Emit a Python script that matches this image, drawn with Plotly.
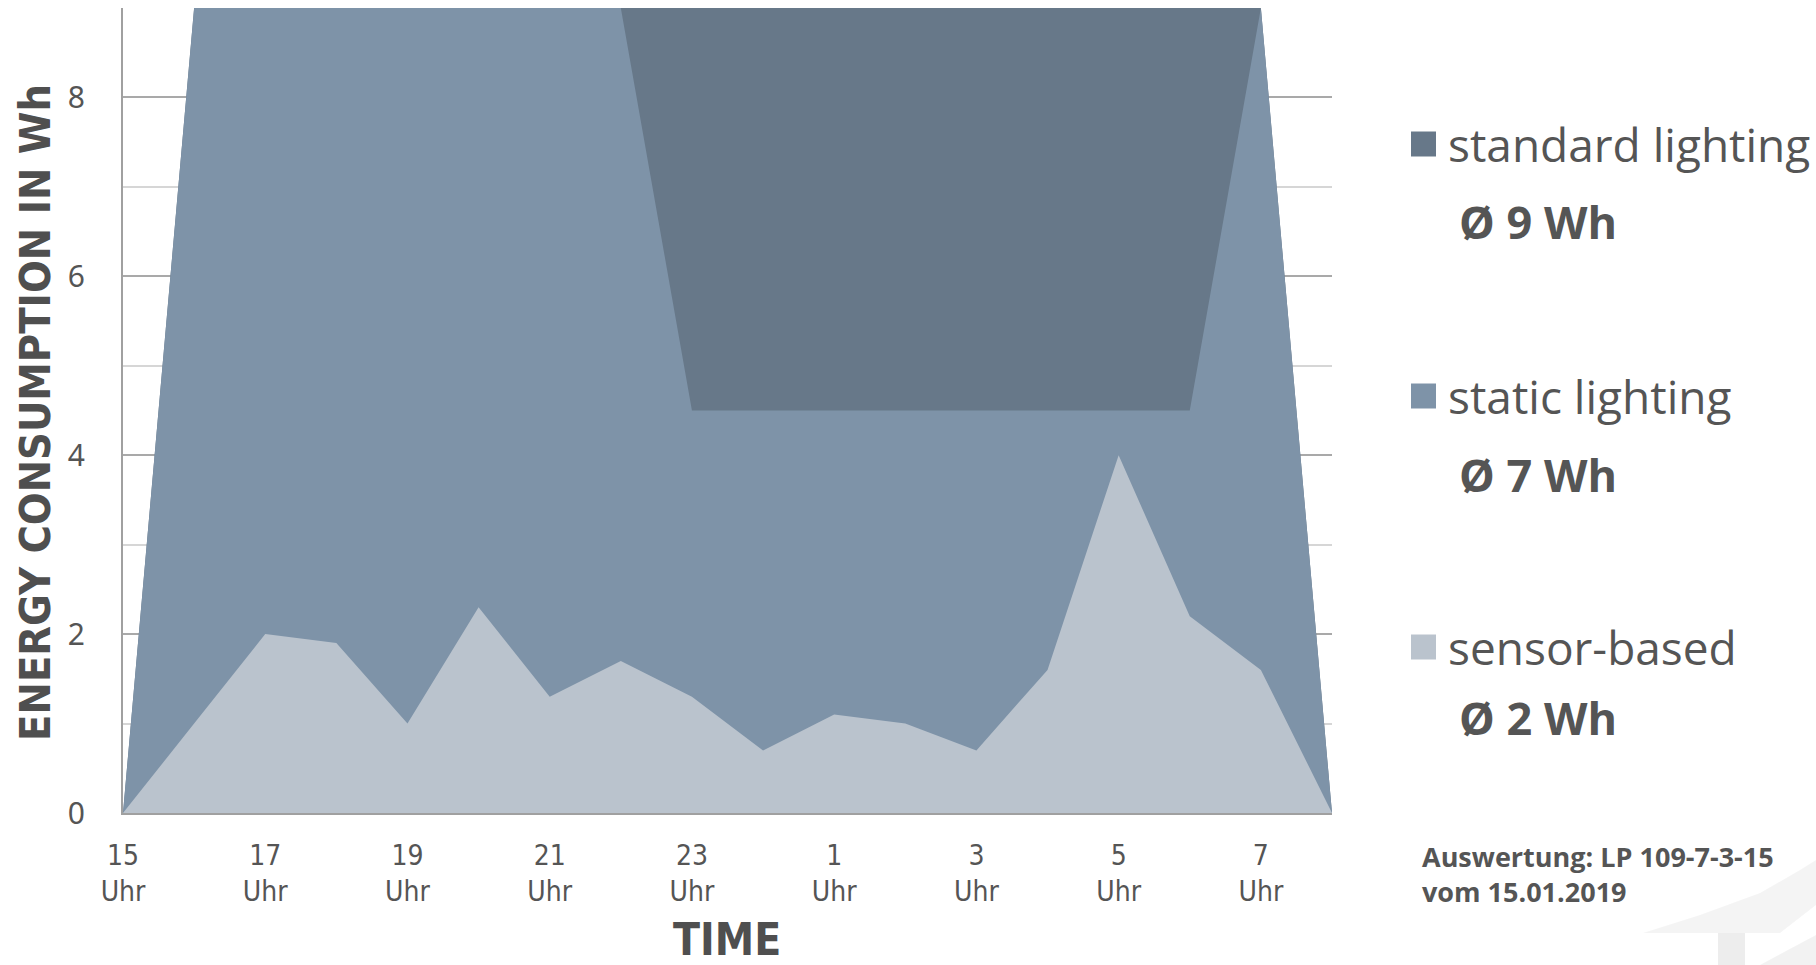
import plotly.graph_objects as go

# Hourly energy consumption over one night (15 Uhr .. 8 Uhr)
hours = ["15", "16", "17", "18", "19", "20", "21", "22", "23",
         "0", "1", "2", "3", "4", "5", "6", "7", "8"]
standard_wh = [0, 9, 9, 9, 9, 9, 9, 9, 9, 9, 9, 9, 9, 9, 9, 9, 9, 0]
static_wh = [0, 9, 9, 9, 9, 9, 9, 9, 4.5, 4.5, 4.5, 4.5, 4.5, 4.5, 4.5, 4.5, 9, 0]
sensor_wh = [0, 1.0, 2.0, 1.9, 1.0, 2.3, 1.3, 1.7, 1.3, 0.7, 1.1, 1.0, 0.7, 1.6, 4.0, 2.2, 1.6, 0]

series_names = ["standard lighting", "static lighting", "sensor-based"]
series_avg = ["Ø 9 Wh", "Ø 7 Wh", "Ø 2 Wh"]
series_colors = ["#677889", "#7e93a8", "#bac3cd"]

y_ticks = [0, 2, 4, 6, 8]
x_tick_idx = list(range(0, len(hours), 2))
x_tick_text = [f"{hours[i]}<br>Uhr" for i in x_tick_idx]

x = list(range(len(hours)))

# canvas / plot-area geometry in pixels
FIG_W, FIG_H = 1816, 965
L, R, T, B = 123, 484, 8, 152
PW = FIG_W - L - R
PH = FIG_H - T - B


def xp(px):
    return (px - L) / PW


def yp(py):
    return (FIG_H - B - py) / PH


fig = go.Figure()
for name, vals, col in zip(series_names, [standard_wh, static_wh, sensor_wh], series_colors):
    fig.add_trace(go.Scatter(
        x=x, y=vals, name=name, mode="none",
        fill="tozeroy", fillcolor=col, showlegend=False,
    ))

TXT = "#555555"
condensed = "Liberation Sans Narrow, DejaVu Sans Condensed, Arial Narrow, sans-serif"
legend_font = "Open Sans, Noto Sans, DejaVu Sans, sans-serif"

fig.update_layout(
    width=FIG_W, height=FIG_H, autosize=False,
    margin=dict(l=L, r=R, t=T, b=B, pad=0),
    paper_bgcolor="white", plot_bgcolor="white",
    xaxis=dict(
        range=[0, len(hours) - 1], tickmode="array",
        tickvals=x_tick_idx, ticktext=x_tick_text,
        showgrid=False, zeroline=False, showline=True,
        linecolor="#a0a0a0", linewidth=2, ticks="",
        ticklabelstandoff=16,
        tickfont=dict(family=condensed, size=28, color=TXT),
    ),
    yaxis=dict(
        range=[0, 9], tickmode="array", tickvals=y_ticks,
        showgrid=True, gridcolor="#a9a9a9", gridwidth=2,
        minor=dict(dtick=1, tick0=0, showgrid=True, gridcolor="#d6d6d6", gridwidth=2),
        zeroline=False, showline=True, linecolor="#a0a0a0", linewidth=2,
        ticks="", ticklabelstandoff=30,
        tickfont=dict(family="Noto Sans, DejaVu Sans, sans-serif", size=30, color=TXT),
    ),
)

annotations = [
    dict(text="<b>ENERGY CONSUMPTION IN Wh</b>", x=xp(35), y=0.497, textangle=-90,
         xanchor="center", yanchor="middle",
         font=dict(family=condensed, size=43, color="#4f4f4f")),
    dict(text="<b>TIME</b>", x=xp(727), y=yp(939), xanchor="center", yanchor="middle",
         font=dict(family=condensed, size=44, color="#4f4f4f")),
    dict(text="<b>Auswertung: LP 109-7-3-15<br>vom 15.01.2019</b>", x=xp(1420), y=yp(874),
         xanchor="left", yanchor="middle", align="left",
         font=dict(family=legend_font, size=27, color=TXT)),
]

shapes = []
legend_rows = [144, 396, 647]
avg_rows = [221, 474, 717]
for name, avg, col, ty, ay in zip(series_names, series_avg, series_colors, legend_rows, avg_rows):
    shapes.append(dict(type="rect", xref="paper", yref="paper",
                       x0=xp(1411), x1=xp(1436), y0=yp(ty + 12.5), y1=yp(ty - 12.5),
                       fillcolor=col, line=dict(width=0)))
    annotations.append(dict(text=name, x=xp(1446), y=yp(ty), xanchor="left", yanchor="middle",
                            font=dict(family=legend_font, size=46, color=TXT)))
    annotations.append(dict(text=f"<b>{avg}</b>", x=xp(1457), y=yp(ay), xanchor="left",
                            yanchor="middle", font=dict(family=legend_font, size=45, color=TXT)))

# soft page-curl shading in the bottom-right corner
def path(points):
    return "M " + " L ".join(f"{xp(px)},{yp(py)}" for px, py in points) + " Z"

shapes.append(dict(type="path", xref="paper", yref="paper",
                   path=path([(1643, 933), (1700, 915), (1760, 893), (1800, 870),
                              (1816, 860), (1816, 905), (1780, 933)]),
                   fillcolor="rgba(0,0,0,0.045)", line=dict(width=0)))
shapes.append(dict(type="path", xref="paper", yref="paper",
                   path=path([(1718, 933), (1745, 933), (1745, 965), (1718, 965)]),
                   fillcolor="rgba(0,0,0,0.07)", line=dict(width=0)))
shapes.append(dict(type="path", xref="paper", yref="paper",
                   path=path([(1760, 965), (1816, 935), (1816, 965)]),
                   fillcolor="rgba(0,0,0,0.05)", line=dict(width=0)))

for a in annotations:
    a.setdefault("xref", "paper")
    a.setdefault("yref", "paper")
    a.setdefault("showarrow", False)

fig.update_layout(annotations=annotations, shapes=shapes)
fig.write_html("out.html")
